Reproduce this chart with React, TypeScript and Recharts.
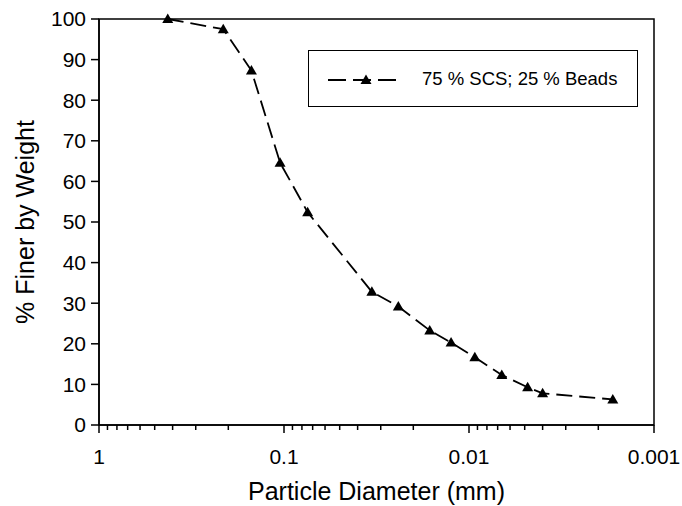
import { LineChart, Line, XAxis, YAxis, ReferenceArea } from 'recharts';

const diameters = [0.425, 0.213, 0.15, 0.105, 0.0745, 0.0335, 0.0241, 0.0163, 0.0125, 0.0093, 0.00665, 0.00482, 0.004, 0.00167];
const percentFiner = [100, 97.5, 87.3, 64.6, 52.4, 32.8, 29.2, 23.3, 20.3, 16.7, 12.3, 9.3, 7.8, 6.3];
const majorTicks = [1, 0.1, 0.01, 0.001];
const minorTicks = [0.9, 0.8, 0.7, 0.6, 0.5, 0.4, 0.3, 0.2, 0.09, 0.08, 0.07, 0.06, 0.05, 0.04, 0.03, 0.02, 0.009, 0.008, 0.007, 0.006, 0.005, 0.004, 0.003, 0.002];
const yTicks = [0, 10, 20, 30, 40, 50, 60, 70, 80, 90, 100];
const seriesName = '75 % SCS; 25 % Beads';
const xTitle = 'Particle Diameter (mm)';
const yTitle = '% Finer by Weight';

const data = diameters.map((d, i) => ({ d, pct: percentFiner[i] }));

const FONT = 'Liberation Sans, Arial, sans-serif';
const DASH = '16 7';

const Triangle = ({ cx, cy }: any) => {
  if (cx == null || cy == null) return null;
  return <polygon points={`${cx},${cy - 5.5} ${cx - 5.5},${cy + 4} ${cx + 5.5},${cy + 4}`} fill="#000" />;
};

const XTick = ({ x, y, payload }: any) => {
  const major = majorTicks.includes(payload.value);
  return (
    <g>
      <line x1={x} x2={x} y1={y} y2={y + (major ? 8 : 5)} stroke="#000" strokeWidth={1.5} />
      {major && (
        <text x={x} y={y + 39} textAnchor="middle" fontSize={21} fontFamily={FONT} fill="#000">
          {payload.value}
        </text>
      )}
    </g>
  );
};

const XTitle = ({ viewBox }: any) => (
  <text x={viewBox.x + viewBox.width / 2} y={viewBox.y + 75} textAnchor="middle" fontSize={25} fontFamily={FONT} fill="#000">
    {xTitle}
  </text>
);

const YTitle = ({ viewBox }: any) => {
  const cx = viewBox.x + 6;
  const cy = viewBox.y + viewBox.height / 2;
  return (
    <text x={cx} y={cy} transform={`rotate(-90 ${cx} ${cy})`} textAnchor="middle" dominantBaseline="central" fontSize={25} fontFamily={FONT} fill="#000">
      {yTitle}
    </text>
  );
};

export default function App() {
  return (
    <div style={{ position: 'absolute', left: 0, top: 0, width: 682, height: 506, background: '#fff' }}>
      <LineChart width={682} height={506} data={data} margin={{ top: 19, right: 28, left: 19, bottom: 31 }}>
        <XAxis
          dataKey="d"
          type="number"
          scale="log"
          domain={[0.001, 1]}
          reversed
          allowDataOverflow
          ticks={[...majorTicks, ...minorTicks]}
          interval={0}
          tickLine={false}
          tickSize={0}
          tickMargin={0}
          tick={<XTick />}
          height={50}
          axisLine={{ stroke: '#000', strokeWidth: 1.5 }}
          label={<XTitle />}
        />
        <YAxis
          type="number"
          domain={[0, 100]}
          ticks={yTicks}
          interval={0}
          width={80}
          tickSize={8}
          tickMargin={5}
          tickLine={{ stroke: '#000', strokeWidth: 1.5 }}
          axisLine={{ stroke: '#000', strokeWidth: 1.5 }}
          tick={{ fontSize: 21, fontFamily: FONT, fill: '#000' }}
          label={<YTitle />}
        />
        <ReferenceArea x1={1} x2={0.001} y1={0} y2={100} fill="none" stroke="#000" strokeWidth={1.5} />
        <Line
          dataKey="pct"
          name={seriesName}
          stroke="#000"
          strokeWidth={1.8}
          strokeDasharray={DASH}
          dot={<Triangle />}
          activeDot={false}
          isAnimationActive={false}
        />
      </LineChart>
      <div
        style={{
          position: 'absolute',
          left: 308,
          top: 50,
          width: 330,
          height: 57,
          border: '1px solid #000',
          boxSizing: 'border-box',
          background: '#fff',
          fontFamily: FONT,
        }}
      >
        <svg width={100} height={55} style={{ position: 'absolute', left: 0, top: 0 }}>
          <line x1={19} x2={87} y1={29} y2={29} stroke="#000" strokeWidth={1.8} strokeDasharray="18 7 18 7" />
          <Triangle cx={57} cy={29} />
        </svg>
        <span style={{ position: 'absolute', left: 113, top: 17, fontSize: 18.5, lineHeight: '21px', whiteSpace: 'nowrap' }}>{seriesName}</span>
      </div>
    </div>
  );
}
